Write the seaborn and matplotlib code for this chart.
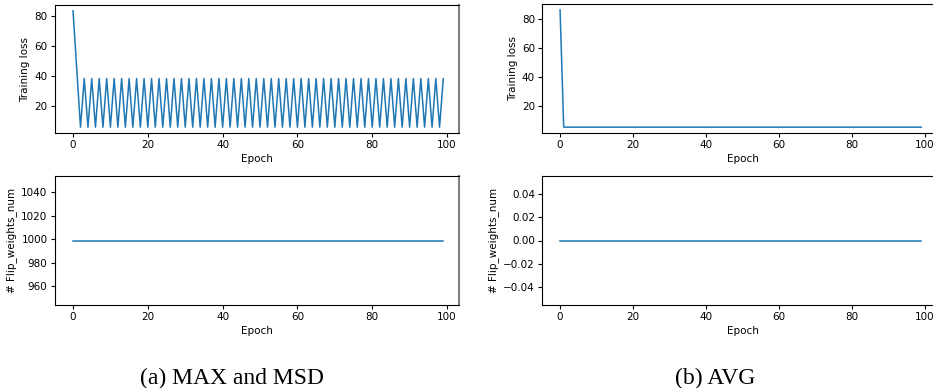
import numpy as np
import pandas as pd
import matplotlib
matplotlib.use("Agg")
import matplotlib.pyplot as plt
import seaborn as sns

# ---- data ----
epochs = list(range(100))
# (a) MAX and MSD: training loss oscillates between two values after the first epochs
loss_a_start = [83.5, 44.5]
loss_a_low = 5.7
loss_a_high = 38.2
loss_a = loss_a_start + [loss_a_low if e % 2 == 0 else loss_a_high for e in epochs[2:]]
flip_a = [999] * 100
# (b) AVG
loss_b = [86.4] + [5.2] * 99
flip_b = [0] * 100

captions = ["(a) MAX and MSD", "(b) AVG"]

plt.rcParams["font.family"] = ["DejaVu Sans"]
W, H = 933, 388
fig = plt.figure(figsize=(W / 100, H / 100), dpi=100)

def rect(x0, x1, ytop, ybot):
    return [x0 / W, 1 - ybot / H, (x1 - x0) / W, (ybot - ytop) / H]

color = "#1f77b4"
fs = 7.5

panels = [
    (rect(54.5, 459, 5, 133), loss_a, "Training loss", "left"),
    (rect(54.5, 459, 176, 305), flip_a, "# Flip_weights_num", "left"),
    (rect(542, 943, 4, 133), loss_b, "Training loss", "right"),
    (rect(542, 943, 176, 305), flip_b, "# Flip_weights_num", "right"),
]

for pos, vals, ylab, side in panels:
    ax = fig.add_axes(pos)
    df = pd.DataFrame({"Epoch": epochs, "val": vals})
    sns.lineplot(data=df, x="Epoch", y="val", ax=ax, color=color, linewidth=1.1)
    ax.set_xlabel("Epoch", fontsize=fs, labelpad=3)
    ax.set_ylabel(ylab, fontsize=fs, labelpad=3)
    ax.tick_params(labelsize=fs, length=3, width=0.8, pad=2)
    ax.set_xticks([0, 20, 40, 60, 80, 100])
    for s in ax.spines.values():
        s.set_linewidth(0.8)
    if side == "left":
        ax.set_xlim(-4.95, 103.2)
        ax.spines["right"].set_color("#808080")
        ax.spines["right"].set_linewidth(1.5)
    else:
        ax.set_xlim(-4.95, 104.95)

fig.text(232 / W, 1 - 378 / H, captions[0], ha="center", va="center",
         fontsize=17, family=["Liberation Serif"])
fig.text(715 / W, 1 - 378 / H, captions[1], ha="center", va="center",
         fontsize=17, family=["Liberation Serif"])

fig.savefig("out.png", dpi=100)
